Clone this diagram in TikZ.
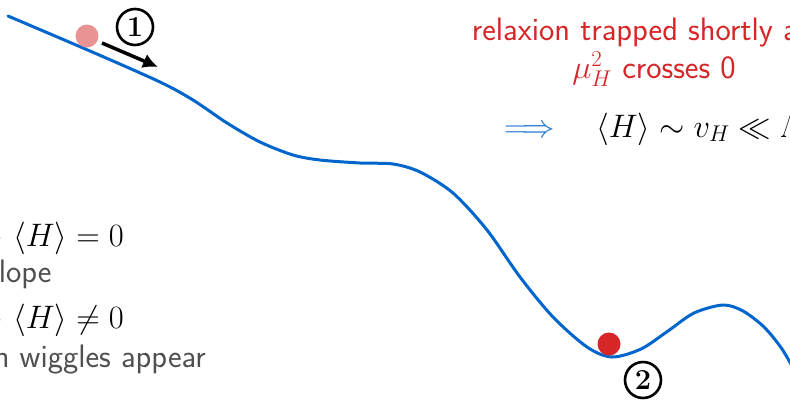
\RequirePackage{fix-cm}
\documentclass[tikz,border=0pt]{standalone}
\usetikzlibrary{arrows.meta}
\definecolor{curveblue}{RGB}{0,102,204}
\definecolor{arrowblue}{RGB}{40,120,215}
\definecolor{ballred}{RGB}{214,38,40}
\definecolor{ballpink}{RGB}{232,148,148}
\definecolor{txtgray}{RGB}{80,80,80}
\tikzset{
  curve/.style={draw=curveblue, line width=3pt, line cap=round},
  ball/.style={circle, inner sep=0pt, minimum size=23pt, draw=none},
  push/.style={draw=black, line width=3.5pt, -{Latex[length=15pt,width=15pt]}},
  stepnum/.style={circle, draw=black, line width=2.6pt, inner sep=0pt, minimum size=36pt,
     font=\rmfamily\bfseries\fontsize{29}{32}\selectfont},
  txt/.style={inner sep=0pt, font=\sffamily\fontsize{32.5}{38}\selectfont},
  mtxt/.style={inner sep=0pt, font=\fontsize{32.5}{38}\selectfont},
  redtxt/.style={txt, text=ballred},
  graytxt/.style={txt, text=txtgray},
  mathtxt/.style={mtxt, text=black},
  implies/.style={mtxt, text=arrowblue},
}
\begin{document}
\begin{tikzpicture}[x=1pt,y=-1pt]
\useasboundingbox (0,0) rectangle (790,400);
\clip (0,0) rectangle (790,400);
% potential curve
\draw[curve] plot[smooth,tension=0.5] coordinates {
 (8,16) (90,51) (160,82) (193,100) (227,123) (260,142) (293,155) (320,160)
 (360,163) (393,164) (420,172) (453,193) (487,230) (520,277) (553,317)
 (587,347) (612,357) (641,349) (668,331) (694,313) (723,305)
 (743,311) (764,327) (782,349) (797,375)};
% balls
\node[ball, fill=ballpink] (b1) at (87,36) {};
\node[ball, fill=ballred] (b2) at (609,344) {};
% push arrow
\coordinate (a1s) at (102,43);
\coordinate (a1e) at (158,67);
\draw[push] (a1s) -- (a1e);
% step numbers
\node[stepnum] (n1) at (135,27) {1};
\node[stepnum] (n2) at (643,380) {2};
% right texts
\node[redtxt, anchor=base] (t1) at (657,40) {relaxion trapped shortly after};
\node[redtxt, anchor=base] (t2) at (654,78) {$\mu_H^2$ crosses 0};
\node[implies, anchor=base west] (i1) at (504,137) {$\Longrightarrow$};
\node[mathtxt, anchor=base west] (m1) at (596,137) {$\langle H\rangle \sim v_H \ll \Lambda$};
% left texts
\node[implies, anchor=base east] (i2) at (3,246) {$\Longrightarrow$};
\node[mathtxt, anchor=base west] (m2) at (13,246) {$\langle H\rangle = 0$};
\node[graytxt, anchor=base west] (g1) at (-13,282) {slope};
\node[implies, anchor=base east] (i3) at (3,328) {$\Longrightarrow$};
\node[mathtxt, anchor=base west] (m3) at (13,328) {$\langle H\rangle \neq 0$};
\node[graytxt, anchor=base east] (g2) at (206,367) {then wiggles appear};
\end{tikzpicture}
\end{document}
